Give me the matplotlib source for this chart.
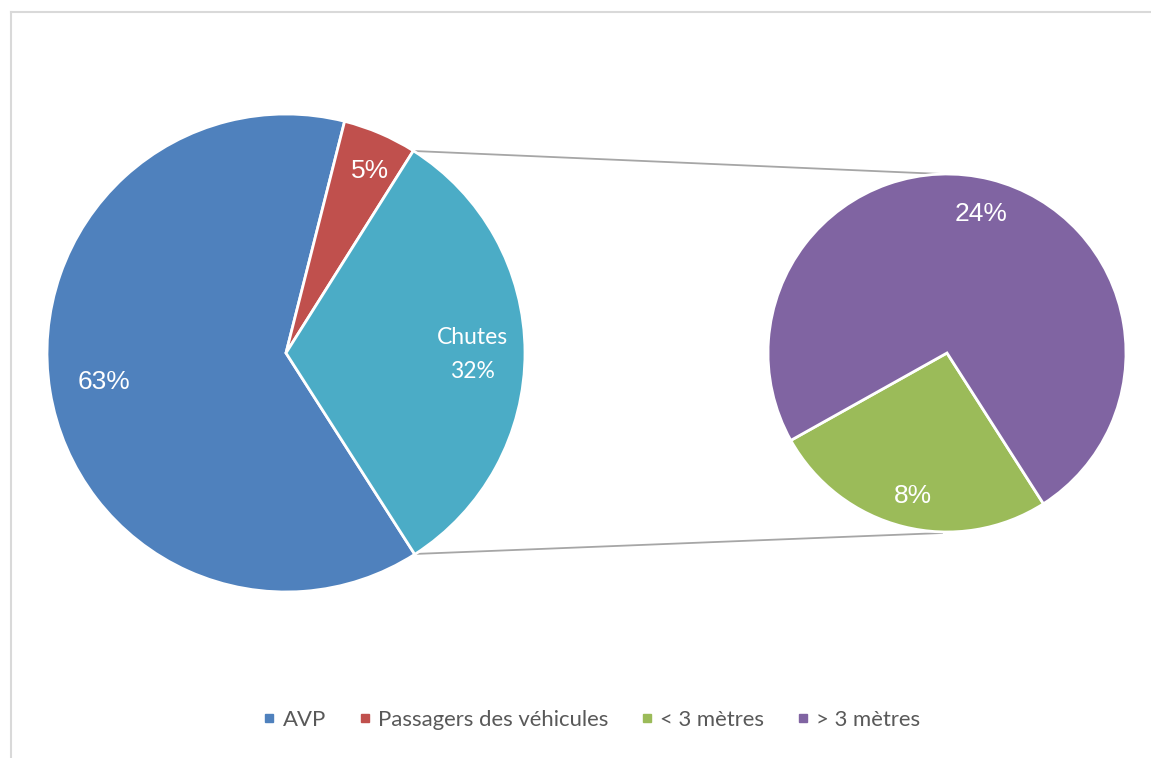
import matplotlib
matplotlib.use("Agg")
import matplotlib.pyplot as plt
from matplotlib.lines import Line2D

# Data
main_labels = ["AVP", "Passagers des véhicules", "Chutes"]
main_values = [63, 5, 32]
main_colors = ["#4F81BD", "#C0504D", "#4BACC6"]

sub_labels = ["< 3 mètres", "> 3 mètres"]
sub_values = [8.3, 23.7]
sub_colors = ["#9BBB59", "#8064A2"]

legend_labels = ["AVP", "Passagers des véhicules", "< 3 mètres", "> 3 mètres"]
legend_colors = ["#4F81BD", "#C0504D", "#9BBB59", "#8064A2"]

W, H = 1151, 758
fig = plt.figure(figsize=(W / 100, H / 100), dpi=100)
ax = fig.add_axes([0, 0, 1, 1])

def py(y):
    return H - y

start = 302.6
wp = dict(edgecolor="white", linewidth=2.0)

ax.pie(main_values, colors=main_colors, startangle=start, counterclock=False,
       center=(286, py(353)), radius=239, wedgeprops=wp, frame=True)
ax.pie(sub_values, colors=sub_colors, startangle=start, counterclock=False,
       center=(947, py(353)), radius=179, wedgeprops=wp, frame=True)

ax.set_xlim(0, W)
ax.set_ylim(0, H)
ax.set_aspect("equal")
ax.axis("off")

# connector lines
ax.plot([414, 942], [py(151), py(174)], color="#A6A6A6", lw=1.3, zorder=0.5)
ax.plot([414, 942], [py(554), py(533)], color="#A6A6A6", lw=1.3, zorder=0.5)

# chart border (top and left)
ax.plot([11, W], [py(12), py(12)], color="#D9D9D9", lw=1.5, clip_on=False)
ax.plot([11, 11], [py(12), 0], color="#D9D9D9", lw=1.5, clip_on=False)

# data labels
pct_font = dict(family="Liberation Sans", fontsize=19, color="white", ha="center", va="center")
ax.text(104, py(382), f"{main_values[0]}%", **pct_font)
ax.text(370, py(171), f"{main_values[1]}%", **pct_font)
ax.text(981, py(214), f"{round(sub_values[1])}%", **pct_font)
ax.text(913, py(496), f"{round(sub_values[0])}%", **pct_font)
lab_font = dict(family="Lato", fontsize=16.5, color="white", ha="center", va="center")
ax.text(472, py(338), main_labels[2], **lab_font)
ax.text(472, py(371), f"{main_values[2]}%", **lab_font)

handles = [Line2D([], [], marker="s", linestyle="none", markersize=6,
                  markerfacecolor=c, markeredgecolor=c) for c in legend_colors]
fig.legend(handles, legend_labels, loc="center", bbox_to_anchor=(592 / W, 1 - 720 / H),
           ncol=4, frameon=False, handlelength=0.5, handletextpad=0.35,
           columnspacing=1.5, prop=dict(family="Lato", size=15.9), labelcolor="#595959")

fig.savefig("out.png", dpi=100)
